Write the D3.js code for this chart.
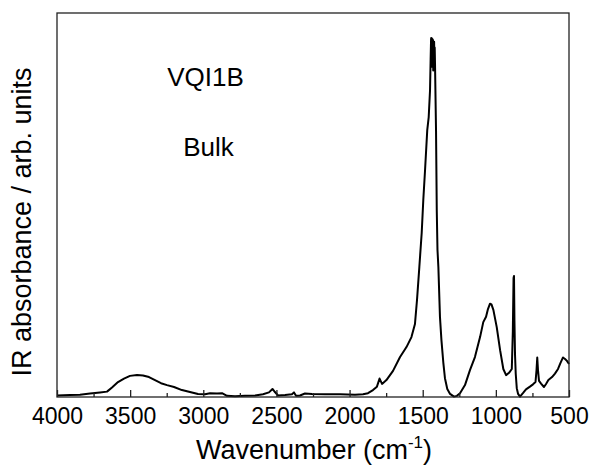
<!DOCTYPE html>
<html>
<head>
<meta charset="utf-8">
<script src="https://cdn.jsdelivr.net/npm/d3@7/dist/d3.min.js"></script>
<style>
  html, body { margin: 0; padding: 0; background: #fff; }
  svg { display: block; }
  text { font-family: "Liberation Sans", Arial, sans-serif; fill: #000; }
</style>
</head>
<body>
<svg id="chart" width="590" height="466"></svg>
<script>
// IR spectrum of sample VQI1B (bulk), wavenumber in cm^-1 vs absorbance (arb. units)
const wavenumber = [
  4000, 3911, 3843, 3774, 3706, 3658, 3624, 3583, 3542, 3501, 3453, 3412, 3371, 3330,
  3289, 3248, 3200, 3146, 3091, 3036, 2988, 2954, 2906, 2872, 2838, 2783, 2715, 2646,
  2592, 2551, 2527, 2510, 2489, 2441, 2394, 2380, 2366, 2339, 2305, 2257, 2168, 2065,
  1963, 1908, 1874, 1840, 1813, 1795, 1778, 1748, 1703, 1655, 1611, 1577, 1553, 1539,
  1523, 1507, 1496, 1484, 1469, 1459, 1450, 1446, 1443,
  1442, 1440, 1438, 1436, 1434, 1432, 1430, 1428, 1426, 1424, 1422, 1420, 1418, 1416,
  1409, 1404, 1399, 1393, 1382, 1372, 1359, 1348, 1332, 1313, 1286, 1266, 1245, 1211,
  1177, 1143, 1108, 1086, 1067, 1054, 1040, 1030, 1017, 994, 971, 949, 930, 910,
  891, 884, 879, 876, 873, 869, 864, 857, 848, 835, 815, 794, 767, 746, 729, 722,
  717, 712, 705, 691, 671, 657, 641, 616, 596, 575, 558, 541, 527, 514, 500
];
const absorbance = [
  0.004, 0.005, 0.006, 0.009, 0.012, 0.014, 0.025, 0.039, 0.048, 0.055, 0.057, 0.056, 0.052, 0.044,
  0.036, 0.031, 0.026, 0.018, 0.013, 0.008, 0.007, 0.010, 0.009, 0.010, 0.003, 0.002, 0.003, 0.004,
  0.007, 0.012, 0.021, 0.013, 0.004, 0.005, 0.007, 0.012, 0.003, 0.004, 0.009, 0.008, 0.007, 0.007,
  0.006, 0.007, 0.010, 0.018, 0.027, 0.048, 0.034, 0.044, 0.068, 0.104, 0.130, 0.156, 0.190, 0.253,
  0.339, 0.427, 0.513, 0.591, 0.695, 0.729, 0.799, 0.878, 0.930,
  0.935, 0.860, 0.934, 0.870, 0.932, 0.860, 0.930, 0.850, 0.920, 0.880, 0.925, 0.870, 0.910, 0.870,
  0.695, 0.487, 0.383, 0.339, 0.208, 0.148, 0.089, 0.049, 0.021, 0.008, 0.001, 0.003, 0.010, 0.031,
  0.070, 0.104, 0.156, 0.195, 0.209, 0.229, 0.243, 0.241, 0.227, 0.182, 0.122, 0.073, 0.057, 0.063,
  0.073, 0.170, 0.310, 0.315, 0.200, 0.110, 0.060, 0.023, 0.008, 0.001, 0.010, 0.020, 0.027, 0.033, 0.039, 0.070,
  0.103, 0.070, 0.042, 0.035, 0.026, 0.034, 0.044, 0.052, 0.061, 0.073, 0.089, 0.103, 0.099, 0.094, 0.086
];

const majorTicks = [4000, 3500, 3000, 2500, 2000, 1500, 1000, 500];
const minorTicks = [3750, 3250, 2750, 2250, 1750, 1250, 750];
const sampleName = "VQI1B";
const sampleForm = "Bulk";
const xTitle = "Wavenumber (cm";
const xTitleSup = "-1";
const yTitle = "IR absorbance / arb. units";

const svg = d3.select("#chart");
const plot = { left: 57, right: 569, top: 13, bottom: 397 };

const x = d3.scaleLinear().domain([4000, 500]).range([plot.left, plot.right]);
const y = d3.scaleLinear().domain([0, 1]).range([plot.bottom, plot.top]);

const points = wavenumber.map((w, i) => [w, absorbance[i]]);

// spectrum trace
svg.append("path")
  .datum(points)
  .attr("fill", "none")
  .attr("stroke", "#000")
  .attr("stroke-width", 2)
  .attr("stroke-linejoin", "round")
  .attr("d", d3.line().x(d => x(d[0])).y(d => y(d[1])));

// frame
svg.append("rect")
  .attr("x", plot.left).attr("y", plot.top)
  .attr("width", plot.right - plot.left).attr("height", plot.bottom - plot.top)
  .attr("fill", "none").attr("stroke", "#222").attr("stroke-width", 1.3);

// bottom axis, ticks pointing inward
const axisMajor = d3.axisBottom(x).tickValues(majorTicks).tickSize(-7).tickPadding(11)
  .tickFormat(d3.format("d"));
const gx = svg.append("g").attr("transform", `translate(0,${plot.bottom})`).call(axisMajor);
gx.select(".domain").remove();
gx.selectAll(".tick line").attr("stroke", "#222").attr("stroke-width", 1.3);
gx.selectAll(".tick text").attr("font-size", 23).attr("font-family", "Liberation Sans, Arial, sans-serif");

const axisMinor = d3.axisBottom(x).tickValues(minorTicks).tickSize(-4).tickFormat("");
const gm = svg.append("g").attr("transform", `translate(0,${plot.bottom})`).call(axisMinor);
gm.select(".domain").remove();
gm.selectAll(".tick line").attr("stroke", "#222").attr("stroke-width", 1.3);

// axis titles
const xt = svg.append("text")
  .attr("x", 314)
  .attr("y", 459)
  .attr("text-anchor", "middle")
  .attr("font-size", 27);
xt.append("tspan").text(xTitle);
xt.append("tspan").attr("font-size", 17).attr("dy", -11).text(xTitleSup);
xt.append("tspan").attr("dy", 11).text(")");

svg.append("text")
  .attr("transform", "translate(31,222) rotate(-90)")
  .attr("text-anchor", "middle")
  .attr("font-size", 27)
  .text(yTitle);

// sample annotations
svg.append("text").attr("x", 205.5).attr("y", 86).attr("text-anchor", "middle")
  .attr("font-size", 26).text(sampleName);
svg.append("text").attr("x", 208.5).attr("y", 156).attr("text-anchor", "middle")
  .attr("font-size", 26).text(sampleForm);
</script>
</body>
</html>
